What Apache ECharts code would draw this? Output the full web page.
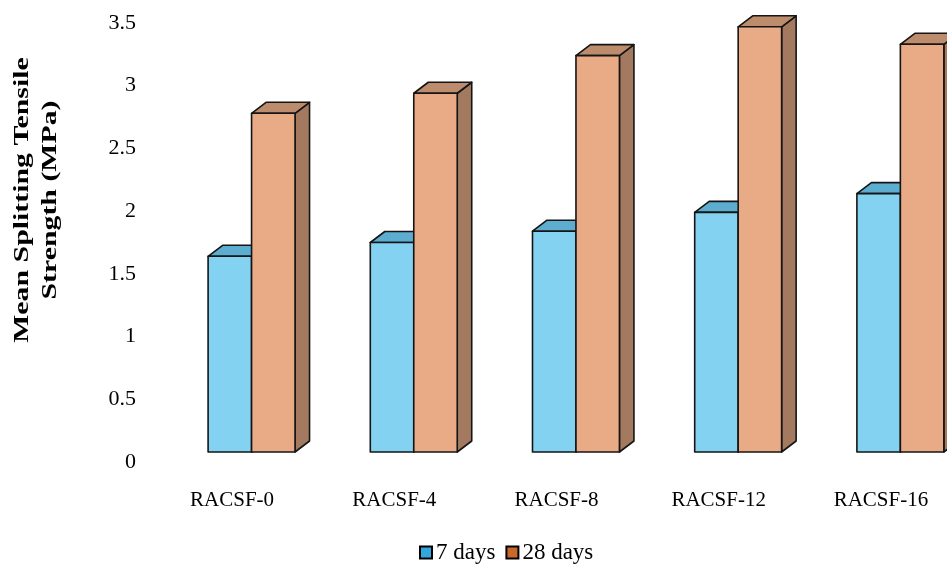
<!DOCTYPE html>
<html>
<head>
<meta charset="utf-8">
<script src="https://cdn.jsdelivr.net/npm/echarts@6/dist/echarts.min.js"></script>
<style>
  html, body { margin: 0; padding: 0; background: #fff; overflow: hidden; }
  #chart { width: 975px; height: 564px; }
</style>
</head>
<body>
<div id="chart"></div>
<script>
// Mean splitting tensile strength of RAC mixes with silica fume
const categories = ['RACSF-0', 'RACSF-4', 'RACSF-8', 'RACSF-12', 'RACSF-16'];
const days7 = [1.64, 1.75, 1.84, 1.99, 2.14];
const days28 = [2.78, 2.94, 3.24, 3.47, 3.33];
const yTicks = [0, 0.5, 1, 1.5, 2, 2.5, 3, 3.5];

const FONT = '"Liberation Serif", "Times New Roman", serif';

// box face colours: front, top, side
const palette7 = { front: '#84d2f2', top: '#5cadcf', side: '#4690b2', legend: '#34a6de' };
const palette28 = { front: '#e9aa86', top: '#bd8c6c', side: '#a37a5f', legend: '#c8682a' };

// Draws one pseudo-3D box per category; slot 0 = left bar, slot 1 = right bar
function boxRenderer(values, pal, slot) {
  return function (params, api) {
    const i = api.value(0);
    const v = api.value(1);
    const band = api.size([1, 0])[0];
    const cx = api.coord([i, 0])[0];
    const zeroY = api.coord([i, 0])[1];
    const topY = api.coord([i, v])[1];
    const w = band * 0.268;
    const x0 = cx - band * 0.148 + slot * w;
    const x1 = x0 + w;
    const dx = 14.5, dy = 11;
    const botY = zeroY - 10;
    const line = { stroke: '#151515', lineWidth: 1.6, lineJoin: 'round' };
    return {
      type: 'group',
      children: [
        {
          type: 'polygon',
          shape: { points: [[x1, topY], [x1 + dx, topY - dy], [x1 + dx, botY - dy], [x1, botY]] },
          style: Object.assign({ fill: pal.side }, line)
        },
        {
          type: 'polygon',
          shape: { points: [[x0, topY], [x1, topY], [x1 + dx, topY - dy], [x0 + dx, topY - dy]] },
          style: Object.assign({ fill: pal.top }, line)
        },
        {
          type: 'rect',
          shape: { x: x0, y: topY, width: w, height: botY - topY },
          style: Object.assign({ fill: pal.front }, line)
        }
      ]
    };
  };
}

const chart = echarts.init(document.getElementById('chart'), null, { renderer: 'canvas' });

chart.setOption({
  backgroundColor: '#ffffff',
  animation: false,
  grid: { left: 151, right: 13, top: 23, bottom: 102, containLabel: false },
  xAxis: {
    type: 'category',
    data: categories,
    axisLine: { show: false },
    axisTick: { show: false },
    axisLabel: { color: '#000', fontFamily: FONT, fontSize: 21, margin: 28 }
  },
  yAxis: {
    type: 'value',
    min: 0,
    max: 3.5,
    interval: 0.5,
    splitLine: { show: false },
    axisLine: { show: false },
    axisTick: { show: false },
    axisLabel: {
      color: '#000', fontFamily: FONT, fontSize: 22, margin: 15,
      formatter: function (val) { return yTicks.indexOf(val) >= 0 ? String(val) : ''; }
    }
  },
  legend: {
    top: 536,
    left: 414,
    itemWidth: 12,
    itemHeight: 12,
    itemGap: 10,
    icon: 'rect',
    textStyle: { color: '#000', fontFamily: FONT, fontSize: 23, padding: [0, 0, 0, -1] },
    data: [
      { name: '7 days', itemStyle: { color: palette7.legend, borderColor: '#000', borderWidth: 2 } },
      { name: '28 days', itemStyle: { color: palette28.legend, borderColor: '#000', borderWidth: 2 } }
    ]
  },
  graphic: [
    {
      type: 'text',
      x: 37,
      y: 200,
      rotation: Math.PI / 2,
      scaleX: 1.42,
      style: {
        text: 'Mean Splitting Tensile\nStrength (MPa)',
        font: 'bold 21px ' + FONT,
        fill: '#000',
        align: 'center',
        verticalAlign: 'middle',
        lineHeight: 28
      }
    }
  ],
  series: [
    {
      name: '7 days',
      type: 'custom',
      itemStyle: { color: palette7.legend },
      renderItem: boxRenderer(days7, palette7, 0),
      encode: { x: 0, y: 1 },
      data: days7.map(function (v, i) { return [i, v]; })
    },
    {
      name: '28 days',
      type: 'custom',
      itemStyle: { color: palette28.legend },
      renderItem: boxRenderer(days28, palette28, 1),
      encode: { x: 0, y: 1 },
      data: days28.map(function (v, i) { return [i, v]; })
    }
  ]
});
</script>
</body>
</html>
